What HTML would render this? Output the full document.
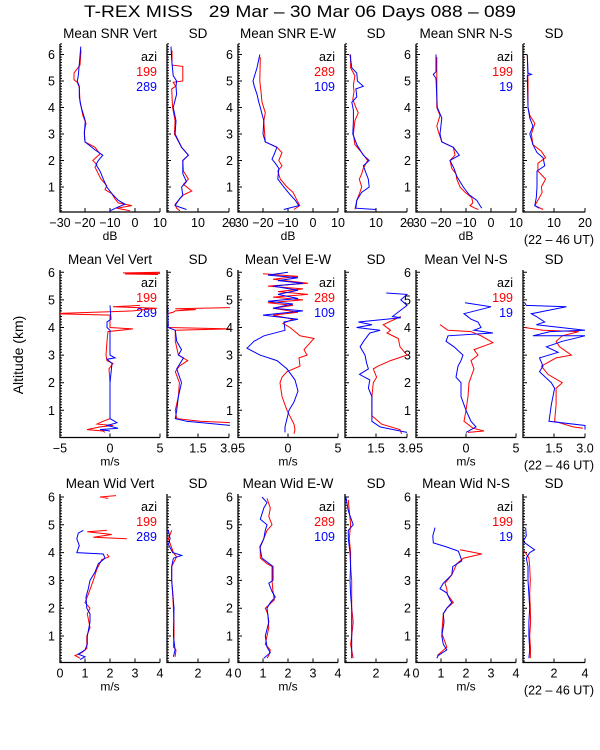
<!DOCTYPE html>
<html><head><meta charset="utf-8">
<style>
html,body{margin:0;padding:0;background:#fff;}
svg{display:block;font-family:"Liberation Sans",sans-serif;}
text{fill:#000;}
</style></head>
<body>
<svg id="chart" width="600" height="750" viewBox="0 0 600 750" xmlns="http://www.w3.org/2000/svg">
<rect x="0" y="0" width="600" height="750" fill="#fff"/>
<text x="300" y="17" font-size="17" text-anchor="middle" textLength="432" lengthAdjust="spacingAndGlyphs" xml:space="preserve">T-REX MISS   29 Mar – 30 Mar 06 Days 088 – 089</text>
<text x="0" y="0" font-size="14" text-anchor="middle" transform="translate(23,355) rotate(-90)">Altitude (km)</text>
<g id="panels"></g>
</svg>
<script>
// ---------- Row 1: SNR ----------
const snrVertRedAlt=[6.15,5.6,5.3,5.05,4.95,4.75,4.2,4.0,3.7,3.4,3.1,2.7,2.5,2.25,2.0,1.85,1.75,1.5,1.3,1.05,0.9,0.75,0.55,0.4,0.3,0.2,0.1];
const snrVertRedVal=[-21.6,-22,-24.4,-24.4,-23.1,-22.3,-22,-21.5,-20.9,-19.6,-20.3,-20,-16,-14,-16.9,-15.3,-16,-14.7,-13.6,-11.3,-12,-9.3,-8,-6.7,-1.3,-7.3,-2];
const snrVertBlueAlt=[6.3,5.2,5.0,4.8,4.4,4.0,3.5,3.0,2.7,2.4,2.2,2.0,1.85,1.6,1.3,1.0,0.75,0.5,0.35,0.25,0.1];
const snrVertBlueVal=[-21.7,-22.7,-23.1,-22.3,-22.3,-21.5,-19.9,-20.3,-20,-16,-12.9,-14.7,-15.6,-14,-12.7,-11.3,-9.3,-6.7,-4,-6.7,-10];
const snrVertSdRedAlt=[6.15,5.6,5.55,5.0,4.95,4.8,4.7,4.2,4.0,3.5,3.0,2.5,2.2,2.0,1.6,1.3,1.1,0.85,0.7,0.5,0.35,0.2,0.1];
const snrVertSdRedVal=[1.6,1.6,5.1,5.1,2,2.8,1.5,1.7,1.8,2.6,2.4,4.7,6.9,5.1,5.3,6.9,5.3,8,5.3,3.7,2.6,3.1,4.2];
const snrVertSdBlueAlt=[6.3,5.8,5.2,5.0,4.8,4.5,4.0,3.5,3.0,2.5,2.2,2.0,1.5,1.2,1.0,0.7,0.5,0.3,0.15];
const snrVertSdBlueVal=[1.3,1.5,2,3.1,2.9,3.1,2,2.9,2.6,4.7,6.9,5.1,5.1,6.3,4.7,5.1,3.7,2.6,6.3];
const snrEwRedAlt=[5.9,5.0,4.6,4.2,3.8,3.5,3.2,2.7,2.5,2.3,2.0,1.8,1.6,1.3,1.0,0.8,0.5,0.3,0.15];
const snrEwRedVal=[-21.1,-21.3,-20.8,-20.4,-19.1,-19.7,-19.5,-19.1,-14.4,-12.4,-13.7,-12.4,-14.1,-13.1,-10.4,-8,-6.4,-5.3,-7.7];
const snrEwBlueAlt=[6.0,5.5,5.0,4.8,4.5,4.2,4.0,3.5,3.0,2.7,2.5,2.2,2.05,1.9,1.7,1.3,1.0,0.7,0.5,0.3,0.15];
const snrEwBlueVal=[-21.3,-22.4,-24,-23.5,-22.4,-21.7,-21.1,-19.7,-20,-19.1,-14.4,-15.7,-16.4,-15.1,-13.7,-14.1,-11.7,-9.1,-7.1,-5.7,-11.7];
const snrEwSdRedAlt=[6.0,5.5,5.2,4.85,4.6,4.3,4.0,3.8,3.5,3.0,2.6,2.3,2.0,1.7,1.5,1.3,1.0,0.8,0.5,0.15];
const snrEwSdRedVal=[1.8,1.8,3.2,2.7,2.9,2.5,3.5,4.3,3.2,2.7,3.2,5.4,7.3,5.9,5.4,4.6,5.4,4.8,3.8,3.2];
const snrEwSdBlueAlt=[6.0,5.5,5.3,5.0,4.8,4.7,4.4,4.2,3.9,3.5,3.0,2.6,2.2,2.0,1.8,1.3,1.0,0.8,0.5,0.2,0.15];
const snrEwSdBlueVal=[1.6,2.2,3.8,4,5.9,3.5,3.8,2.2,2.7,2.7,2.5,3.8,5.9,7.8,5.9,7.5,7.8,5.4,3.8,3.5,10];
const snrNsRedAlt=[5.9,4.0,3.7,3.3,3.1,2.7,2.5,2.2,2.0,1.7,1.5,1.3,1.0,0.8,0.6,0.4,0.3,0.2,0.15];
const snrNsRedVal=[-21.7,-21.7,-20.4,-21.7,-21.1,-19.7,-15.1,-14.4,-16.4,-15.7,-14,-13.7,-12.4,-10.4,-7.7,-7.3,-8.4,-6.4,-5.1];
const snrNsBlueAlt=[6.0,5.35,5.25,5.1,4.0,3.6,3.0,2.7,2.5,2.2,2.0,1.7,1.4,1.0,0.7,0.5,0.3,0.2];
const snrNsBlueVal=[-22,-22,-23.1,-22,-21.5,-19.7,-20.4,-19.7,-15.1,-12.7,-16.4,-14.8,-13.7,-11.1,-8.7,-5.7,-4.4,-3.7];
const snrNsSdRedAlt=[6.0,5.0,4.0,3.7,3.4,3.0,2.6,2.35,2.1,1.9,1.6,1.3,1.0,0.8,0.5,0.3,0.15];
const snrNsSdRedVal=[1.4,1.6,1.6,2.2,3.8,2.7,3.2,5.9,7.3,4.8,4.8,7.3,5.9,6.2,4.8,3.8,6.5];
const snrNsSdBlueAlt=[6.0,5.3,5.25,5.2,4.0,3.6,3.3,3.0,2.6,2.3,2.1,1.8,1.6,1.0,0.6,0.3,0.2];
const snrNsSdBlueVal=[1.4,1.6,2.7,1.4,1.6,2.2,3.2,2.2,3.2,4.5,6.5,7,4.5,4.5,4.3,3.8,5.2];
// ---------- Row 2: Velocity ----------
const velVertRedAlt=[6.0,5.98,5.96,5.94,5.92,null,4.8,4.75,4.7,4.6,4.5,4.45,4.0,3.95,3.85,3.5,3.0,2.8,2.7,2.5,2.0,1.0,0.7,0.6,0.5,0.45,0.4,0.3,0.25,0.2];
const velVertRedVal=[5,1.3,5,1.5,4.8,null,3,0.3,4.7,2.3,-6,0,0,2.3,-0.2,-0.3,-0.4,-0.3,0.3,-0.1,0,0,0,-0.7,-1.3,0.3,-1,-2.3,-0.7,-0.5];
const velVertBlueAlt=[4.8,4.3,4.2,4.0,3.9,3.0,2.9,2.85,2.7,2.0,0.7,0.55,0.45,0.35,0.3,0.25];
const velVertBlueVal=[0,0.1,-0.3,-0.3,0,0,0.5,-0.3,0.2,0,0,0.7,-0.3,0.8,-1,0];
const velVertSdRedAlt=[4.72,4.68,4.65,4.6,4.55,4.5,4.0,3.95,3.9,3.5,3.0,2.8,2.6,2.4,2.0,1.5,1.0,0.7,0.6,0.55];
const velVertSdRedVal=[3.1,0.4,1.4,0.4,0.3,0,0.05,3.1,0.4,0.4,0.55,1.0,0.6,0.4,0.6,0.55,0.4,0.47,1.6,3.1];
const velVertSdBlueAlt=[4.8,4.0,3.9,3.5,3.2,3.0,2.9,2.5,2.0,1.5,1.0,0.7,0.6,0.5,0.45];
const velVertSdBlueVal=[0.03,0.06,0.4,0.47,0.7,0.55,0.8,0.47,0.7,0.55,0.47,0.4,0.95,2.4,3.1];
const velEwRedAlt=[5.95,5.85,5.75,5.6,5.5,5.4,5.3,5.2,5.1,5.0,4.9,4.8,4.7,4.55,4.45,4.3,4.15,4.0,3.7,3.6,3.2,3.0,2.9,2.6,2.4,2.2,2.0,1.5,1.0,0.5,0.3,0.15];
const velEwRedVal=[-2.5,1,-1.5,2,-2,1.5,-1,2,-1.5,1.5,-2,0.5,-1.5,1,-1.5,0.5,-0.5,0.2,1.2,2.6,1.6,1.9,1.1,1.2,-0.1,-0.6,-0.8,-0.6,-0.1,0.6,0.7,0.6];
const velEwBlueAlt=[6.0,5.9,5.8,5.7,5.6,5.5,5.35,5.2,5.05,4.95,4.85,4.7,4.6,4.45,4.3,4.2,3.9,3.7,3.5,3.25,3.0,2.8,2.5,2.4,2.1,1.7,1.3,1.0,0.7,0.4,0.2];
const velEwBlueVal=[0,-2,1,-1,1.5,-1.5,1,-1,1,-2,0.5,-1.5,1.5,-2.5,1,-0.4,-0.3,-2.4,-3.4,-4.1,-2.8,-1.1,-0.1,0.1,0.7,1,0.6,0.1,-0.1,-0.3,-0.3];
const velEwSdRedAlt=[4.4,4.1,3.9,3.8,3.6,3.3,3.0,2.8,2.6,2.5,2.2,2.0,1.5,0.8,0.5,0.3,0.15];
const velEwSdRedVal=[2.7,1.85,2.2,2.03,2.58,2.66,3.0,2.2,1.6,1.37,1.53,1.37,1.3,1.3,1.77,2.66,2.74];
const velEwSdBlueAlt=[5.25,5.2,5.0,4.8,4.4,4.35,4.2,4.1,4.0,3.9,3.8,3.5,3.3,3.0,2.7,2.5,2.3,2.1,1.8,1.5,1.0,0.6,0.4,0.2];
const velEwSdBlueVal=[2.0,3.0,2.7,3.0,2.3,2.7,0.65,1.3,0.56,1.7,1.2,0.9,0.73,0.97,1.05,1.13,0.7,1.2,1.13,1.3,1.3,1.3,1.7,3.0];
const velNsRedAlt=[4.1,3.9,3.85,3.7,3.45,3.2,3.0,2.8,2.5,2.0,1.5,1.0,0.6,0.35,0.25,0.2];
const velNsRedVal=[-2.6,-1.8,0.5,1.5,2.7,0.8,1.2,0.5,0.8,0.3,0.2,0,-0.2,0.7,1.8,0.2];
const velNsBlueAlt=[4.9,4.75,4.5,4.3,4.2,4.0,3.9,3.8,3.7,3.5,3.3,3.0,2.8,2.6,2.2,2.0,1.5,1.0,0.6,0.4,0.2];
const velNsBlueVal=[-0.1,2.5,-0.2,0.5,1.2,1.5,0.8,2.7,-1.8,-2,-1.2,-0.3,-0.5,-0.8,-1,-0.5,-0.5,0,0.5,1,0];
const velNsSdRedAlt=[4.0,3.9,3.85,3.7,3.5,3.3,3.0,2.9,2.6,2.3,2.0,1.8,1.2,0.6,0.4,0.35];
const velNsSdRedVal=[0.08,0.97,2.7,1.9,1.6,1.77,2.34,1.6,0.89,1.21,1.9,1.6,1.6,1.53,2.42,2.9];
const velNsSdBlueAlt=[4.9,4.8,4.75,4.5,4.4,4.2,4.1,3.9,3.85,3.7,3.7,3.5,3.3,3.1,2.9,2.6,2.4,2.0,1.8,1.2,0.6,0.45,0.3];
const velNsSdBlueVal=[0.08,0.16,2.1,0.4,0.65,1.05,0.65,3.0,1.3,0.48,3.0,1.9,1.13,1.7,0.8,0.97,0.8,1.37,1.53,1.37,1.26,3.0,3.0];
// ---------- Row 3: Width ----------
const widVertRedAlt=[6.05,6.0,5.95,null,4.8,4.75,4.65,4.55,4.5,null,3.95,3.85,3.75,3.4,3.0,2.5,2.2,2.0,1.8,1.3,1.0,0.55,0.4,0.3,0.2];
const widVertRedVal=[2.24,1.6,1.93,null,1.87,1.09,2.07,1.33,2.67,null,1.87,1.96,1.67,1.47,1.33,1.13,1.0,1.2,1.09,1.2,1.07,1.07,0.87,0.6,0.8];
const widVertBlueAlt=[4.8,4.7,4.5,4.25,4.0,3.95,3.8,3.6,3.3,3.0,2.7,2.4,2.0,1.8,1.5,1.0,0.7,0.5,0.35,0.25,0.15];
const widVertBlueVal=[0.93,0.73,0.67,0.77,0.67,1.73,1.8,1.53,1.4,1.2,1.13,1.04,1.07,1.2,1.2,1.09,1.09,1.0,0.73,1.0,0.8];
const widVertSdRedAlt=[6.05,5.95,null,4.8,4.5,4.0,3.85,3.5,3.0,2.5,2.0,1.5,1.0,0.6,0.5,0.25];
const widVertSdRedVal=[0.02,0.02,null,0.3,0.09,0.41,0.62,0.3,0.3,0.37,0.41,0.45,0.45,0.41,0.58,0.52];
const widVertSdBlueAlt=[4.8,4.5,4.3,4.0,3.9,3.8,3.5,3.0,2.0,1.0,0.5,0.25];
const widVertSdBlueVal=[0.09,0.2,0.09,0.37,0.95,0.41,0.3,0.3,0.45,0.41,0.52,0.41];
const widEwRedAlt=[5.95,5.6,5.3,5.0,4.8,4.5,4.2,3.8,3.6,3.5,3.0,2.6,2.3,2.0,1.8,1.3,1.0,0.7,0.5,0.3,0.2];
const widEwRedVal=[1.16,1.29,1.23,1.36,1.16,1.03,0.89,0.89,1.16,1.36,1.36,1.4,1.45,1.09,1.19,1.23,1.16,1.09,1.29,1.23,1.16];
const widEwBlueAlt=[6.0,5.8,5.6,5.2,5.0,4.8,4.5,4.2,3.8,3.5,3.0,2.9,2.6,2.4,2.2,2.0,1.5,1.0,0.6,0.4,0.2];
const widEwBlueVal=[0.96,1.16,1.03,0.89,1.16,1.09,1.03,0.87,0.96,1.4,1.4,1.23,1.36,1.49,1.29,1.16,1.23,1.09,1.16,1.29,1.03];
const widEwSdRedAlt=[5.9,5.5,5.0,4.5,4.0,3.5,3.0,2.5,2.0,1.5,1.0,0.7,0.2];
const widEwSdRedVal=[0.21,0.28,0.36,0.28,0.36,0.36,0.43,0.43,0.43,0.53,0.43,0.36,0.53];
const widEwSdBlueAlt=[6.0,5.5,5.0,4.8,4.5,4.0,3.5,3.0,2.5,2.0,1.5,1.0,0.5,0.2];
const widEwSdBlueVal=[0.06,0.21,0.53,0.21,0.21,0.32,0.36,0.32,0.36,0.43,0.43,0.43,0.43,0.43];
const widNsRedAlt=[4.1,3.95,3.8,3.6,3.2,2.9,2.7,2.5,2.2,2.0,1.8,1.1,0.6,0.3];
const widNsRedVal=[1.76,2.63,1.89,1.63,1.43,1.16,1.23,1.25,1.49,1.23,1.09,1.03,1.23,0.85];
const widNsBlueAlt=[4.9,4.6,4.35,4.2,4.05,3.9,3.7,3.5,3.2,2.9,2.7,2.55,2.3,2.2,2.0,1.8,1.5,1.0,0.7,0.5,0.3,0.2];
const widNsBlueVal=[0.76,0.67,0.69,1.23,1.69,1.76,1.83,1.47,1.43,1.09,0.96,1.23,1.36,1.43,1.23,1.09,1.12,1.03,1.09,1.23,0.89,0.83];
const widNsSdRedAlt=[4.1,3.95,3.8,3.5,3.0,2.5,2.0,1.5,1.0,0.5,0.2];
const widNsSdRedVal=[0,0.21,0.38,0.43,0.47,0.43,0.47,0.49,0.43,0.49,0.47];
const widNsSdBlueAlt=[4.9,4.6,4.4,4.1,4.0,3.8,3.5,3.0,2.5,2.0,1.5,1.0,0.5,0.2];
const widNsSdBlueVal=[0.17,0.21,0,0.75,0.43,0.21,0.32,0.32,0.38,0.43,0.38,0.38,0.43,0.38];

// tick labels
const snrMeanTicks=[-30,-20,-10,0,10];
const snrSdTicks=[10,20];
const velMeanTicks=[-5,0,5];
const velSdTicks=[1.5,3.0];
const widMeanTicks=[0,1,2,3,4];
const widSdTicks=[2,4];
const altTicks=[1,2,3,4,5,6];
const aziRed=["199","289","199"];
const aziBlue=["289","109","19"];

const NS="http://www.w3.org/2000/svg";
const root=document.getElementById('panels');
function mk(tag,attrs,parent){const e=document.createElementNS(NS,tag);for(const k in attrs)e.setAttribute(k,attrs[k]);(parent||root).appendChild(e);return e;}

const rowsGeom=[{y0:213.5,k:26.5,top:44,bot:212,maxAlt:6.4},{y0:437.9,k:27.6,top:270,bot:437.5,maxAlt:6.08},{y0:663.8,k:27.8,top:494,bot:662.5,maxAlt:6.07}];
const meanX=[60,238,416], sdX=[167,345,523];
const rowNames=["SNR","Vel","Wid"], dirNames=["Vert","E-W","N-S"];
const rowLabel=["Mean SNR ","Mean Vel ","Mean Wid "];
const meanDom=[[-30,10],[-5,5],[0,4]], sdDom=[[0,20],[0,3],[0,4]];
const meanTickSets=[snrMeanTicks,velMeanTicks,widMeanTicks], sdTickSets=[snrSdTicks,velSdTicks,widSdTicks];
const unitLabel=["dB","m/s","m/s"];
const series=[
 [[snrVertRedAlt,snrVertRedVal,snrVertBlueAlt,snrVertBlueVal,snrVertSdRedAlt,snrVertSdRedVal,snrVertSdBlueAlt,snrVertSdBlueVal],
  [snrEwRedAlt,snrEwRedVal,snrEwBlueAlt,snrEwBlueVal,snrEwSdRedAlt,snrEwSdRedVal,snrEwSdBlueAlt,snrEwSdBlueVal],
  [snrNsRedAlt,snrNsRedVal,snrNsBlueAlt,snrNsBlueVal,snrNsSdRedAlt,snrNsSdRedVal,snrNsSdBlueAlt,snrNsSdBlueVal]],
 [[velVertRedAlt,velVertRedVal,velVertBlueAlt,velVertBlueVal,velVertSdRedAlt,velVertSdRedVal,velVertSdBlueAlt,velVertSdBlueVal],
  [velEwRedAlt,velEwRedVal,velEwBlueAlt,velEwBlueVal,velEwSdRedAlt,velEwSdRedVal,velEwSdBlueAlt,velEwSdBlueVal],
  [velNsRedAlt,velNsRedVal,velNsBlueAlt,velNsBlueVal,velNsSdRedAlt,velNsSdRedVal,velNsSdBlueAlt,velNsSdBlueVal]],
 [[widVertRedAlt,widVertRedVal,widVertBlueAlt,widVertBlueVal,widVertSdRedAlt,widVertSdRedVal,widVertSdBlueAlt,widVertSdBlueVal],
  [widEwRedAlt,widEwRedVal,widEwBlueAlt,widEwBlueVal,widEwSdRedAlt,widEwSdRedVal,widEwSdBlueAlt,widEwSdBlueVal],
  [widNsRedAlt,widNsRedVal,widNsBlueAlt,widNsBlueVal,widNsSdRedAlt,widNsSdRedVal,widNsSdBlueAlt,widNsSdBlueVal]]
];
let clipId=0;
function fmt(v){return (v<0?"\u2212":"")+Math.abs(v).toString();}
function fmtSd(v){return Number.isInteger(v)&&v<10&&v!==2&&v!==4?v.toFixed(1):String(v);}

function panel(r,c,isSd){
  const g=rowsGeom[r];
  const x0=isSd?sdX[c]:meanX[c], w=isSd?62:100;
  const dom=isSd?sdDom[r]:meanDom[r];
  const xs=v=>x0+(v-dom[0])/(dom[1]-dom[0])*w;
  const ys=h=>g.y0-h*g.k;
  const pg=mk('g',{});
  
  
  // title
  const t=mk('text',{x:x0+w/2,y:g.top-6,'font-size':13.5,'text-anchor':'middle'},pg);
  t.textContent=isSd?"SD":rowLabel[r]+dirNames[c];
  
  
  // axes
  const ax=mk('path',{d:`M${x0},${g.top}V${g.bot}H${x0+w}`,stroke:'#000','stroke-width':1.3,fill:'none'},pg);
  
  
  let d="";
  for(let h=1;h<=Math.floor(g.maxAlt*10);h++){const a=h/10;const y=ys(a);if(y<g.top-0.5)break;const maj=h%10===0;d+=`M${x0},${y.toFixed(1)}h${maj?4:2}`;}
  const xt=isSd?sdTickSets[r]:meanTickSets[r];
  for(const v of xt){d+=`M${xs(v).toFixed(1)},${g.bot}v-4`;}
  mk('path',{d:d,stroke:'#000','stroke-width':1,fill:'none'},pg);
  if(!isSd){
    for(const a of altTicks){const tl=mk('text',{x:x0-5,y:ys(a)+4.5,'font-size':12.5,'text-anchor':'end'},pg);tl.textContent=a;
      
      }
    const ul=mk('text',{x:x0+w/2,y:g.bot+28,'font-size':12,'text-anchor':'middle'},pg);ul.textContent=unitLabel[r];
    
    
    // legend
    const lx=x0+w-3;
    const l1=mk('text',{x:lx,y:g.top+17,'font-size':12.5,'text-anchor':'end'},pg);l1.textContent='azi';
    
    
    const l2=mk('text',{x:lx,y:g.top+32,'font-size':12.5,'text-anchor':'end',style:'fill:#f00'},pg);l2.textContent=aziRed[c];
    
    
    const l3=mk('text',{x:lx,y:g.top+47,'font-size':12.5,'text-anchor':'end',style:'fill:#00f'},pg);l3.textContent=aziBlue[c];
    
    
  }
  for(const v of xt){
    const tl=mk('text',{x:xs(v),y:g.bot+15,'font-size':12.5,'text-anchor':'middle'},pg);
    tl.textContent=isSd?(r===1?v.toFixed(1):String(v)):fmt(v);
    
    
  }
  if(isSd&&c===2){
    const ut=mk('text',{x:x0+w/2+5,y:g.bot+32,'font-size':12.5,'text-anchor':'middle'},pg);ut.textContent='(22 \u2013 46 UT)';
    
    
  }
  // clip
  const cid='clip'+(clipId++);
  const cp=mk('clipPath',{id:cid},pg);mk('rect',{x:x0,y:g.top-2,width:w+1,height:g.bot-g.top+2},cp);
  const s=series[r][c];
  const off=isSd?4:0;
  const colors=['#f00','#00f'];
  for(let k=0;k<2;k++){
    const alt=s[off+k*2], val=s[off+k*2+1];
    let p="",pen=false;
    for(let i=0;i<alt.length;i++){
      if(alt[i]===null||val[i]===null){pen=false;continue;}
      p+=(pen?'L':'M')+xs(val[i]).toFixed(1)+','+ys(alt[i]).toFixed(1);pen=true;
    }
    const ln=mk('path',{d:p,stroke:colors[k],'stroke-width':1,fill:'none','clip-path':`url(#${cid})`},pg);
    
    
  }
}
for(let r=0;r<3;r++)for(let c=0;c<3;c++){panel(r,c,false);panel(r,c,true);}
</script>
</body></html>
